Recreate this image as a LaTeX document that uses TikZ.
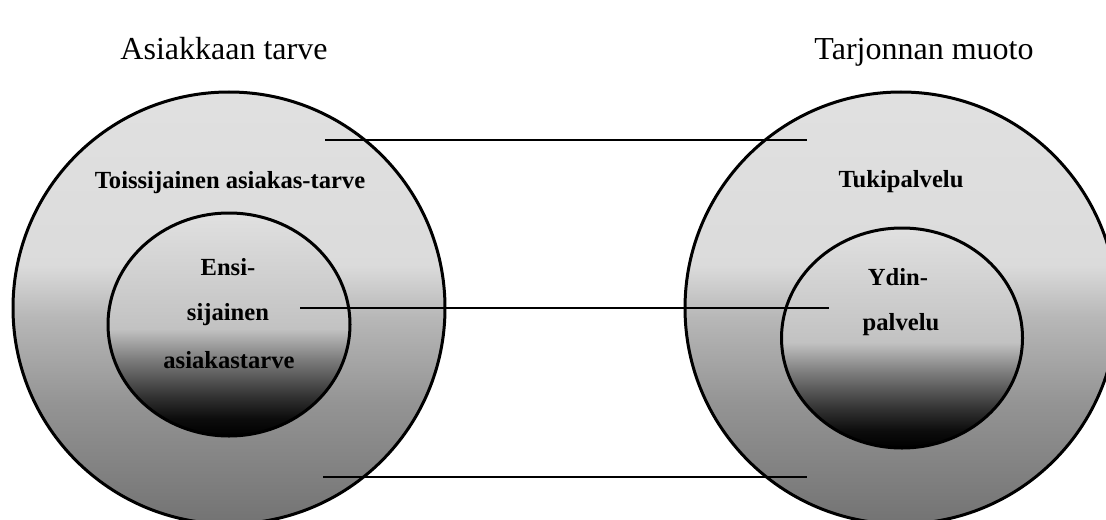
\documentclass[tikz,border=0pt]{standalone}
\usepackage{fontspec}
\setmainfont{Liberation Serif}
\usetikzlibrary{shapes.geometric}
\pgfdeclareverticalshading{outershade}{100bp}{%
  color(0bp)=(black!55); color(25bp)=(black!55); color(39bp)=(black!42);
  color(49bp)=(black!28); color(55bp)=(black!14); color(75bp)=(black!12);
  color(100bp)=(black!12)}
\pgfdeclareverticalshading{innershade}{100bp}{%
  color(0bp)=(black); color(25bp)=(black); color(29bp)=(black!95);
  color(34bp)=(black!80); color(42bp)=(black!52); color(49bp)=(black!24);
  color(75bp)=(black!12); color(100bp)=(black!12)}

\begin{document}
\begin{tikzpicture}[
    x=0.5pt,
    y=-0.5pt,
    ring/.style={circle, draw, line width=1.5pt, shade, shading=outershade, inner sep=0pt, minimum size=216pt},
    core/.style={ellipse, draw, line width=1.5pt, shade, shading=innershade, inner sep=0pt},
    link/.style={line width=1.25pt},
    heading/.style={font=\fontsize{16}{19}\selectfont, anchor=base, inner sep=0pt},
    label/.style={font=\fontsize{12.3}{14}\selectfont\bfseries, anchor=base, inner sep=0pt}
  ]
    \path[use as bounding box, fill=white] (0,0) rectangle (1106,519);
    \clip (0,0) rectangle (1106,519);

    \node[heading] (needhead) at (224,60) {Asiakkaan tarve};
    \node[heading] (offerhead) at (924,60) {Tarjonnan muoto};

    % asiakkaan tarve
    \node[ring] (needouter) at (229,308) {};
    \node[core, minimum width=121pt, minimum height=111.5pt] (needcore) at (229,324.5) {};
    \node[label] (needsec) at (230,188) {Toissijainen asiakas-tarve};
    \node[label] (ensi) at (228,275) {Ensi-};
    \node[label] (sijainen) at (228,320) {sijainen};
    \node[label] (asiakastarve) at (229,368) {asiakastarve};

    % tarjonnan muoto
    \node[ring] (offerouter) at (901,308) {};
    \node[core, minimum width=120.5pt, minimum height=110pt] (offercore) at (902,338) {};
    \node[label] (tuki) at (901,187) {Tukipalvelu};
    \node[label] (ydin) at (898,285) {Ydin-};
    \node[label] (palvelu) at (901,330) {palvelu};

    \coordinate (topL) at (325,140);
    \coordinate (topR) at (807,140);
    \coordinate (midL) at (300,308);
    \coordinate (midR) at (829,308);
    \coordinate (botL) at (323,477);
    \coordinate (botR) at (807,477);

    \draw[link] (topL) -- (topR);
    \draw[link] (midL) -- (midR);
    \draw[link] (botL) -- (botR);
  \end{tikzpicture}
\end{document}
